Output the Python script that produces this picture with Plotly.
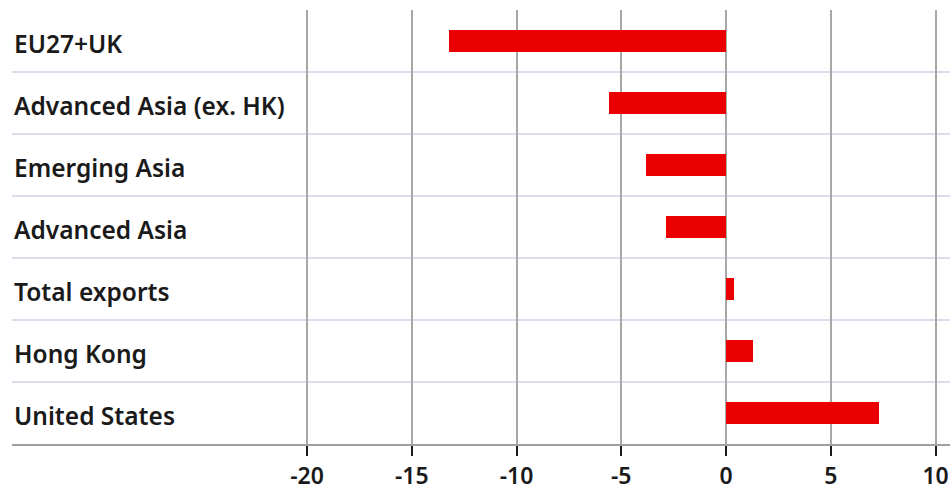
import plotly.graph_objects as go

# Change in exports by destination (percent)
categories = [
    "EU27+UK",
    "Advanced Asia (ex. HK)",
    "Emerging Asia",
    "Advanced Asia",
    "Total exports",
    "Hong Kong",
    "United States",
]
values = [-13.2, -5.6, -3.8, -2.85, 0.4, 1.3, 7.3]
tick_values = [-20, -15, -10, -5, 0, 5, 10]
tick_labels = ["-20", "-15", "-10", "-5", "0", "5", "10"]

FONT = "Noto Sans"
TEXT_COLOR = "#1a1a1a"
BAR_COLOR = "#ea0000"

positions = list(range(len(categories)))

fig = go.Figure()
fig.add_trace(
    go.Bar(
        x=values,
        y=positions,
        orientation="h",
        width=0.355,
        marker=dict(color=BAR_COLOR, line=dict(width=0)),
        hoverinfo="skip",
    )
)

# Category names, left-aligned inside the plot area
for pos, name in zip(positions, categories):
    fig.add_annotation(
        x=0, xref="paper", xanchor="left", xshift=0,
        y=pos, yref="y", yanchor="middle", yshift=-2,
        text=name, showarrow=False,
        font=dict(family=FONT, size=24.5, color=TEXT_COLOR, weight=600),
    )

# Light separators between categories, beneath the vertical grid
for pos in positions[:-1]:
    fig.add_shape(
        type="line", layer="below",
        xref="paper", x0=0, x1=1,
        yref="y", y0=pos + 0.5, y1=pos + 0.5,
        line=dict(color="#dcdcec", width=2),
    )

fig.update_layout(
    width=950,
    height=485,
    margin=dict(l=12, r=0, t=10, b=41, autoexpand=False),
    paper_bgcolor="white",
    plot_bgcolor="white",
    showlegend=False,
    bargap=0,
    xaxis=dict(
        range=[-34.08, 10.69],
        tickmode="array",
        tickvals=tick_values,
        ticktext=tick_labels,
        showgrid=True,
        gridcolor="#a8a8a8",
        gridwidth=2,
        zeroline=False,
        showline=True,
        linecolor="#a0a0a0",
        linewidth=2,
        ticks="outside",
        ticklen=10,
        tickwidth=2,
        tickcolor=TEXT_COLOR,
        tickfont=dict(family=FONT, size=23, color=TEXT_COLOR, weight=600),
        automargin=False,
        fixedrange=True,
    ),
    yaxis=dict(
        range=[len(categories) - 0.5, -0.5],
        showgrid=False,
        zeroline=False,
        showline=False,
        showticklabels=False,
        ticks="",
        automargin=False,
        fixedrange=True,
    ),
)

fig.write_html("out.html")
